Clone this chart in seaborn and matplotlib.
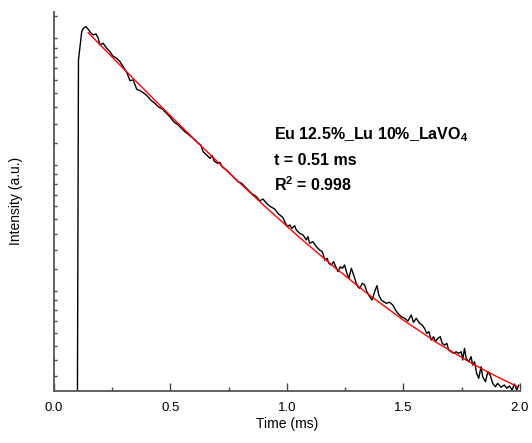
import numpy as np
import pandas as pd
import matplotlib
matplotlib.use("Agg")
import matplotlib.pyplot as plt
import matplotlib.ticker as mticker
import seaborn as sns

# decay data (time in ms, ln of intensity)
time_ms = [
    0.100, 0.105, 0.111, 0.119, 0.126, 0.137, 0.147, 0.157, 0.168, 0.180,
    0.190, 0.197, 0.211, 0.226, 0.240, 0.252, 0.269, 0.283, 0.297, 0.314,
    0.326, 0.340, 0.355, 0.369, 0.383, 0.400, 0.415, 0.433, 0.447, 0.466,
    0.483, 0.497, 0.514, 0.533, 0.547, 0.562, 0.580, 0.597, 0.619, 0.630,
    0.640, 0.655, 0.669, 0.679, 0.687, 0.702, 0.712, 0.721, 0.740, 0.762,
    0.783, 0.790, 0.805, 0.826, 0.847, 0.869, 0.883, 0.897, 0.912, 0.930,
    0.947, 0.961, 0.973, 0.983, 0.990, 1.002, 1.012, 1.021, 1.033, 1.040,
    1.054, 1.069, 1.083, 1.090, 1.097, 1.111, 1.126, 1.140, 1.152, 1.162,
    1.172, 1.180, 1.190, 1.200, 1.212, 1.219, 1.229, 1.238, 1.247, 1.257,
    1.266, 1.276, 1.286, 1.295, 1.304, 1.312, 1.323, 1.333, 1.343, 1.355,
    1.366, 1.376, 1.386, 1.394, 1.405, 1.415, 1.426, 1.440, 1.454, 1.466,
    1.476, 1.490, 1.505, 1.519, 1.533, 1.543, 1.555, 1.569, 1.580, 1.590,
    1.600, 1.609, 1.619, 1.629, 1.637, 1.647, 1.658, 1.666, 1.676, 1.686,
    1.694, 1.705, 1.715, 1.726, 1.737, 1.748, 1.754, 1.762, 1.769, 1.780,
    1.790, 1.797, 1.805, 1.814, 1.823, 1.833, 1.840, 1.852, 1.862, 1.872,
    1.883, 1.895, 1.904, 1.919, 1.933, 1.943, 1.955, 1.966, 1.976, 1.986, 1.995,
]
ln_intensity = [
    -1.200, 1.829, 1.924, 2.053, 2.080, 2.093, 2.072, 2.045, 2.027, 2.035,
    2.001, 1.948, 1.961, 1.922, 1.895, 1.861, 1.842, 1.816, 1.776, 1.724,
    1.665, 1.671, 1.597, 1.586, 1.570, 1.544, 1.512, 1.486, 1.459, 1.439,
    1.407, 1.380, 1.340, 1.314, 1.288, 1.261, 1.235, 1.209, 1.169, 1.156,
    1.103, 1.077, 1.051, 1.071, 1.029, 1.011, 1.019, 0.984, 0.958, 0.918,
    0.879, 0.865, 0.853, 0.813, 0.774, 0.747, 0.713, 0.728, 0.694, 0.667,
    0.649, 0.615, 0.596, 0.580, 0.549, 0.509, 0.523, 0.496, 0.517, 0.483,
    0.457, 0.443, 0.404, 0.430, 0.378, 0.390, 0.351, 0.325, 0.311, 0.245,
    0.259, 0.219, 0.206, 0.232, 0.180, 0.153, 0.192, 0.180, 0.206, 0.140,
    0.101, 0.180, 0.127, 0.074, 0.034, 0.021, 0.061, 0.048, -0.006, -0.045,
    -0.071, -0.006, 0.042, -0.032, -0.071, -0.085, -0.097, -0.089, -0.111, -0.150,
    -0.177, -0.203, -0.216, -0.238, -0.190, -0.248, -0.216, -0.256, -0.269, -0.295,
    -0.335, -0.322, -0.388, -0.362, -0.401, -0.375, -0.362, -0.414, -0.428, -0.414,
    -0.467, -0.481, -0.493, -0.481, -0.493, -0.481, -0.546, -0.454, -0.533, -0.560,
    -0.520, -0.586, -0.560, -0.652, -0.691, -0.599, -0.679, -0.718, -0.639, -0.665,
    -0.731, -0.758, -0.731, -0.762, -0.744, -0.770, -0.752, -0.784, -0.736, -0.784, -0.744,
]

# fitted curve, read at a few points
fit_time = [0.147, 0.30, 0.45, 0.60, 0.75, 0.90, 1.05, 1.20, 1.35, 1.50, 1.65, 1.80, 1.90, 1.993]
fit_ln = [2.045, 1.757, 1.479, 1.205, 0.938, 0.679, 0.430, 0.194, -0.027, -0.231, -0.416, -0.580, -0.677, -0.760]

label_lines = ["Eu 12.5%_Lu 10%_LaVO$_\\mathbf{4}$", "t = 0.51 ms", "R$^\\mathbf{2}$ = 0.998"]

decay = pd.DataFrame({"t": time_ms, "I": np.exp(ln_intensity)})
fit = pd.DataFrame({"t": fit_time, "I": np.exp(fit_ln)})

sns.set_style("ticks")
plt.rcParams["font.family"] = ["Liberation Sans", "DejaVu Sans"]
plt.rcParams["mathtext.fontset"] = "custom"
plt.rcParams["mathtext.rm"] = "Liberation Sans"
plt.rcParams["mathtext.bf"] = "Liberation Sans:bold"
plt.rcParams["text.color"] = "black"
plt.rcParams["axes.labelcolor"] = "black"
plt.rcParams["xtick.color"] = "#444444"
plt.rcParams["ytick.color"] = "#444444"
plt.rcParams["xtick.labelcolor"] = "black"

fig = plt.figure(figsize=(5.32, 4.43), dpi=100)
ax = fig.add_axes([0.1015, 0.1181, 0.8759, 0.8555])

sns.lineplot(data=decay, x="t", y="I", ax=ax, color="black", lw=1.0,
             estimator=None, sort=False)
sns.lineplot(data=fit, x="t", y="I", ax=ax, color="red", lw=1.0,
             estimator=None, sort=False)

ax.set_yscale("log", base=np.e)
ax.set_ylim(np.exp(-0.789), np.exp(2.211))
ax.set_xlim(0, 2.0)

# Origin-style ln axis: linear minor ticks between powers of e
subs = np.linspace(1, np.e, 10)[1:-1]
minor = [np.e ** k * s for k in range(-2, 3) for s in subs]
ax.yaxis.set_major_locator(mticker.FixedLocator([np.e ** k for k in range(-2, 4)]))
ax.yaxis.set_minor_locator(mticker.FixedLocator(minor))
ax.yaxis.set_major_formatter(mticker.NullFormatter())
ax.yaxis.set_minor_formatter(mticker.NullFormatter())

ax.xaxis.set_major_locator(mticker.MultipleLocator(0.5))
ax.xaxis.set_minor_locator(mticker.MultipleLocator(0.25))
ax.xaxis.set_major_formatter(mticker.FormatStrFormatter("%.1f"))

ax.tick_params(axis="x", which="major", direction="in", length=6, width=1, labelsize=9.5, pad=8)
ax.tick_params(axis="x", which="minor", direction="in", length=3, width=1)
ax.tick_params(axis="y", which="both", direction="in", length=2.5, width=1)

for side in ["top", "right"]:
    ax.spines[side].set_visible(False)
for side in ["left", "bottom"]:
    ax.spines[side].set_color("#555555")
    ax.spines[side].set_linewidth(1.3)

ax.set_xlabel("Time (ms)", fontsize=10, labelpad=2)
ax.set_ylabel("Intensity (a.u.)", fontsize=10, labelpad=19)

for i, line in enumerate(label_lines):
    ax.text(0.472, 0.663 - i * 0.068, line, transform=ax.transAxes,
            fontsize=11.5, fontweight="bold", ha="left", va="baseline")

fig.savefig("out.png", dpi=100)
